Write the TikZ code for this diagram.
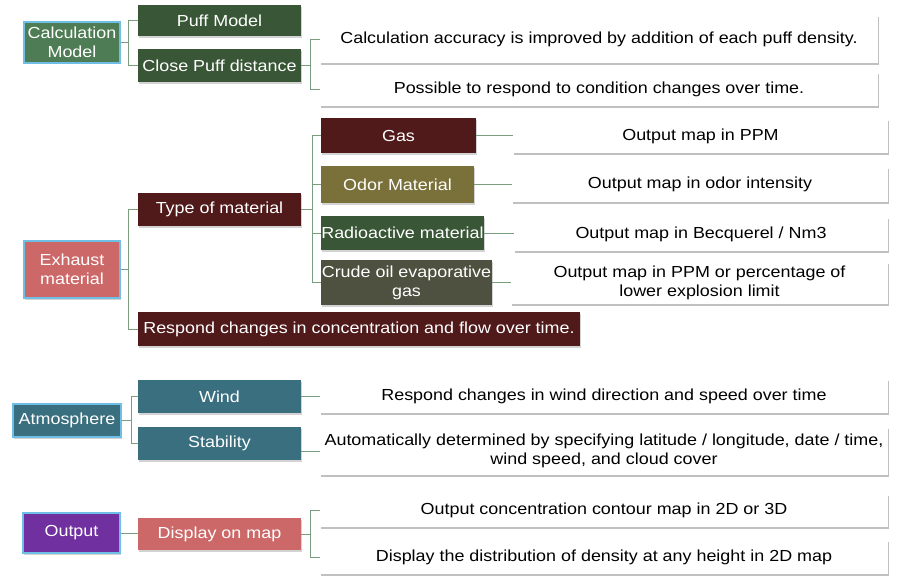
\documentclass[tikz,border=0pt]{standalone}
\usepackage{fontspec}
\setmainfont{Liberation Sans}[FakeStretch=1.12]
\usetikzlibrary{shadows}

\definecolor{calcgreen}{RGB}{78,124,84}
\definecolor{darkgreen}{RGB}{57,87,54}
\definecolor{maroon}{RGB}{80,26,27}
\definecolor{odorolive}{RGB}{122,112,58}
\definecolor{crudegray}{RGB}{78,80,64}
\definecolor{salmon}{RGB}{205,104,104}
\definecolor{teal}{RGB}{58,111,128}
\definecolor{outpurple}{RGB}{112,48,160}
\definecolor{linkcol}{RGB}{120,158,125}
\definecolor{rootedge}{RGB}{110,190,230}

\begin{document}
\begin{tikzpicture}[x=1pt, y=-1pt,
    dims/.style 2 args={minimum width=#1pt, minimum height=#2pt},
    box/.style={rectangle, align=center, inner sep=0.5pt, font=\fontsize{16}{19}\selectfont},
    rootbox/.style={box, text=white, draw=rootedge, line width=1.5pt,
        drop shadow={shadow xshift=1pt, shadow yshift=-1.5pt, opacity=0.35}},
    catbox/.style={box, text=white,
        drop shadow={shadow xshift=1pt, shadow yshift=-2pt, opacity=0.35}},
    infobox/.style={box, fill=white, text=black,
        drop shadow={shadow xshift=1pt, shadow yshift=-2pt, opacity=0.45, fill=black!55}},
    link/.style={draw=linkcol, line width=0.8pt}]

    \useasboundingbox (0,0) rectangle (908,588);

    % Calculation model
    \node[rootbox, fill=calcgreen, dims={96}{41}] (calc) at (72,42.5) {Calculation\\Model};
    \node[catbox, fill=darkgreen, dims={163}{31}] (puff) at (219.5,20.5) {Puff Model};
    \node[catbox, fill=darkgreen, dims={163}{33}] (close) at (219.5,65.5) {Close Puff distance};
    \node[infobox, dims={558}{48}] (acc) at (599,39) {Calculation accuracy is improved by addition of each puff density.};
    \node[infobox, dims={558}{34}] (poss) at (599,89) {Possible to respond to condition changes over time.};

    \foreach \c in {puff,close}
        \draw[link] (calc.east) -- ++(8,0) |- (\c.west);
    \foreach \c in {acc,poss}
        \draw[link] (close.east) -- ++(9,0) |- (\c.west);

    % Exhaust material
    \node[rootbox, fill=salmon, dims={96}{57}] (exh) at (72,269.5) {Exhaust\\material};
    \node[catbox, fill=maroon, dims={163}{33}] (type) at (219.5,209.5) {Type of material};
    \node[catbox, fill=maroon, dims={442}{34}] (resp) at (359,329) {Respond changes in concentration and flow over time.};

    \node[catbox, fill=maroon, dims={155}{35}] (gas) at (398.5,135.5) {Gas};
    \node[catbox, fill=odorolive, dims={153}{37}] (odor) at (397.5,184.5) {Odor Material};
    \node[catbox, fill=darkgreen, dims={163}{34}] (rad) at (402.5,233) {Radioactive material};
    \node[catbox, fill=crudegray, dims={171}{45}] (crude) at (406.5,282.5) {Crude oil evaporative\\gas};

    \node[infobox, dims={375}{34}] (gasout) at (700.5,136) {Output map in PPM};
    \node[infobox, dims={376}{35}] (odorout) at (700,184.5) {Output map in odor intensity};
    \node[infobox, dims={374}{34}] (radout) at (701,234) {Output map in Becquerel / Nm3};
    \node[infobox, dims={377}{42}] (crudeout) at (699.5,283) {Output map in PPM or percentage of\\lower explosion limit};

    \foreach \c in {type,resp}
        \draw[link] (exh.east) -- ++(8,0) |- (\c.west);
    \foreach \c in {gas,odor,rad,crude}
        \draw[link] (type.east) -- ++(11,0) |- (\c.west);
    \foreach \c in {gas,odor,rad,crude}
        \draw[link] (\c.east) -- (\c.east -| \c out.west);

    % Atmosphere
    \node[rootbox, fill=teal, dims={108}{33}] (atm) at (67,420.5) {Atmosphere};
    \node[catbox, fill=teal, dims={163}{33}] (wind) at (219.5,396.5) {Wind};
    \node[catbox, fill=teal, dims={163}{33}] (stab) at (219.5,443.5) {Stability};
    \node[infobox, dims={568}{34}] (windout) at (604,396) {Respond changes in wind direction and speed over time};
    \node[infobox, dims={568}{48}] (stabout) at (604,451) {Automatically determined by specifying latitude / longitude, date / time,\\wind speed, and cloud cover};

    \foreach \c in {wind,stab}
        \draw[link] (atm.east) -- ++(10,0) |- (\c.west);
    \draw[link] (wind.east) -- (wind.east -| windout.west);
    \draw[link] (stabout.west -| stab.east) -- (stabout.west);

    % Output
    \node[rootbox, fill=outpurple, dims={97}{40}] (out) at (71.5,533) {Output};
    \node[catbox, fill=salmon, dims={163}{32}] (disp) at (219.5,534) {Display on map};
    \node[infobox, dims={568}{33}] (contour) at (604,510.5) {Output concentration contour map in 2D or 3D};
    \node[infobox, dims={568}{34}] (dist) at (604,557) {Display the distribution of density at any height in 2D map};

    \draw[link] (out.east) -- (out.east -| disp.west);
    \foreach \c in {contour,dist}
        \draw[link] (disp.east) -- ++(9,0) |- (\c.west);
\end{tikzpicture}
\end{document}
